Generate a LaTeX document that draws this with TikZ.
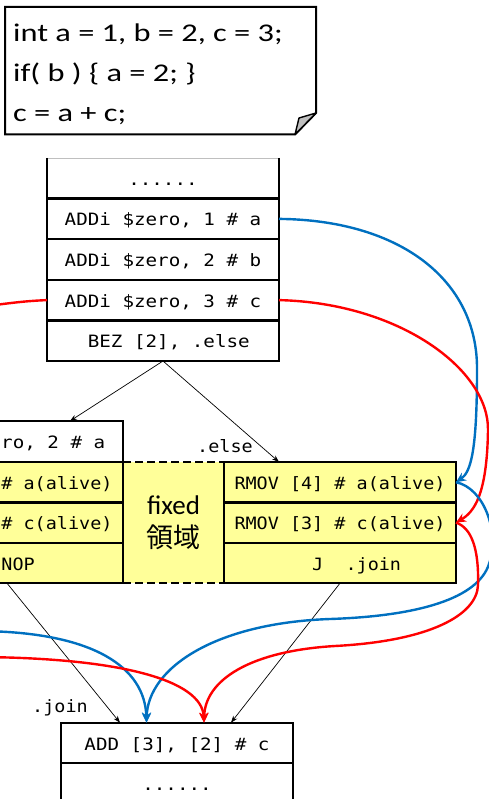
\documentclass[tikz,border=0pt]{standalone}
\usepackage{fontspec}
\setmainfont{Carlito}
\setmonofont{DejaVu Sans Mono}
\newfontfamily\cjkfont{Noto Sans CJK JP}
\usetikzlibrary{arrows.meta}

\definecolor{cellyellow}{HTML}{FFFF99}
\definecolor{linkblue}{HTML}{0070C0}
\definecolor{linkred}{HTML}{FF0000}

% code text in the white rows and in the yellow rows
\newcommand{\codew}[1]{\scalebox{1.13}[1]{\fontsize{17}{20}\ttfamily #1}}
\newcommand{\codey}[1]{\scalebox{1.085}[1]{\fontsize{17}{20}\ttfamily #1}}
% source listing text
\newcommand{\srctext}[1]{\scalebox{1.27}[1]{\fontsize{25.5}{30}\selectfont #1}}

\begin{document}
\begin{tikzpicture}[x=1pt,y=-1pt,
  border/.style={line width=2.2pt},
  cell/.style={draw, line width=2.2pt, minimum width=232pt, minimum height=40.6pt,
    inner sep=0pt, outer sep=0pt, text height=14pt, text depth=0pt},
  ycell/.style={cell, fill=cellyellow, minimum height=40.4pt},
  opencell/.style={cell, draw=none},
  thinarrow/.style={line width=0.7pt, -{Stealth[length=7pt,width=5pt]}},
  bluelink/.style={linkblue, line width=2.4pt, -{Stealth[length=10pt,width=9pt]}},
  redlink/.style={linkred, line width=2.4pt, -{Stealth[length=10pt,width=9pt]}},
  redline/.style={linkred, line width=2.4pt},
  lbl/.style={inner sep=0pt, anchor=base, font=\fontsize{17}{20}\ttfamily},
]
\useasboundingbox (0,0) rectangle (489,799);
\clip (0,0) rectangle (489,799);

% ---- source listing with folded corner ----
\draw[line width=2pt, fill=white] (5,7) -- (316,7) -- (316,113) -- (295,134.5) -- (5,134.5) -- cycle;
\draw[line width=1.4pt, fill=black!25, line join=round] (295,134.5) -- (299,118) -- (316,113) -- cycle;
\node[anchor=base west, inner sep=0pt] (src1) at (13,42) {\srctext{int a = 1, b = 2, c = 3;}};
\node[anchor=base west, inner sep=0pt] (src2) at (13,82) {\srctext{if( b ) \{ a = 2; \}}};
\node[anchor=base west, inner sep=0pt] (src3) at (13,121.5) {\srctext{c = a + c;}};

% ---- upper instruction block ----
\node[opencell] (t0) at (163,178.3) {\codew{......}};
\draw[black!25, line width=0.8pt] (t0.north west) -- (t0.north east);
\draw[border] (t0.north west) -- (t0.south west);
\draw[border] (t0.north east) -- (t0.south east);
\node[cell] (t1) at (163,218.9) {\codew{ADDi \$zero, 1 \# a}};
\node[cell] (t2) at (163,259.5) {\codew{ADDi \$zero, 2 \# b}};
\node[cell] (t3) at (163,300.1) {\codew{ADDi \$zero, 3 \# c}};
\node[cell] (t4) at (163,340.7) {\codew{\ BEZ [2], .else}};

% ---- fixed region between the two branches ----
\node[fill=cellyellow, minimum width=101pt, minimum height=121.2pt, inner sep=0pt, outer sep=0pt,
      align=center, font=\fontsize{27}{33}\selectfont] (fz) at (173.5,522.6)
      {fixed\\{\cjkfont 領域}};
\draw[border, dash pattern=on 8pt off 4pt] (fz.north west) -- (fz.north east);
\draw[border, dash pattern=on 8pt off 4pt] (fz.south west) -- (fz.south east);

% ---- left branch (then) ----
\node[cell] (l0) at (7,441.3) {\codew{ADDi \$zero, 2 \# a}};
\node[ycell] (l1) at (7,482.2) {\codey{RMOV [4] \# a(alive)}};
\node[ycell] (l2) at (7,522.6) {\codey{RMOV [3] \# c(alive)}};
\node[ycell] (l3) at (7,563.0) {\codey{\ \ NOP}};

% ---- right branch (else) ----
\node[ycell] (r1) at (340,482.2) {\codey{RMOV [4] \# a(alive)}};
\node[ycell] (r2) at (340,522.6) {\codey{RMOV [3] \# c(alive)}};
\node[ycell] (r3) at (340,563.0) {\codey{\ \ \ J\ \ .join}};
\node[lbl] (elselbl) at (225,452) {\scalebox{1.085}[1]{.else}};

% ---- join block ----
\node[cell] (b1) at (177,743) {\codew{ADD [3], [2] \# c}};
\node[opencell] (b2) at (177,783.6) {\codew{......}};
\draw[border] (b2.north west) -- (b2.south west);
\draw[border] (b2.north east) -- (b2.south east);
\node[lbl] (joinlbl) at (60,712) {\scalebox{1.085}[1]{.join}};

% ---- control flow ----
\draw[thinarrow] (t4.south) -- ([xshift=63pt]l0.north);
\draw[thinarrow] (t4.south) -- ([xshift=-61pt]r1.north);
\draw[thinarrow] (l3.south) -- ([xshift=-57pt]b1.north);
\draw[thinarrow] (r3.south) -- ([xshift=54pt]b1.north);

% ---- value flow ----
\coordinate (cleft) at (-20,307);
\coordinate (aleft) at (-20,631);
\coordinate (cleft2) at (-20,657);
\coordinate (ain) at ([xshift=-30.5pt]b1.north);
\coordinate (cin) at ([xshift=27pt]b1.north);

\draw[bluelink] (t1.east) .. controls (400,220) and (478,280) .. (477,370)
  .. controls (477,450) and (471,472) .. (r1.east);
\draw[redlink] (t3.east) .. controls (400,303) and (489,370) .. (488,430)
  .. controls (487,495) and (474,512) .. (r2.east);
\draw[redline] (t3.west) .. controls (25,301) and (10,303) .. (cleft);

\draw[bluelink] (r1.east) .. controls (484,488) and (500,532) .. (489,564)
  .. controls (478,598) and (420,616) .. (330,619)
  .. controls (215,623) and (148,668) .. (ain);
\draw[redlink] (r2.east) .. controls (472,528) and (479,550) .. (478,585)
  .. controls (477,615) and (430,641) .. (335,646)
  .. controls (250,651) and (205,680) .. (cin);
\draw[bluelink] (aleft) .. controls (95,632) and (145,668) .. (ain);
\draw[redlink] (cleft2) .. controls (120,658) and (202,680) .. (cin);
\end{tikzpicture}
\end{document}
